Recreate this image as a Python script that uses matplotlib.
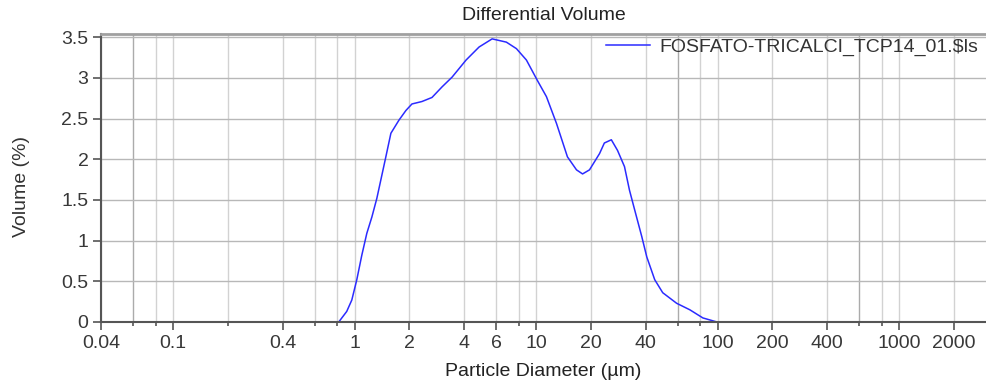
import matplotlib
matplotlib.use('Agg')
import matplotlib.pyplot as plt

plt.rcParams['font.family'] = ['Liberation Sans', 'DejaVu Sans']

# Distribuição diferencial em volume (diâmetro em µm, volume em %)
diametro = [0.69, 0.816, 0.903, 0.963, 1.026, 1.093, 1.165, 1.242, 1.323, 1.483,
            1.581, 1.750, 1.913, 2.065, 2.344, 2.663, 3.025, 3.436, 4.103, 4.838,
            5.71, 6.84, 7.77, 8.82, 10.13, 11.37, 12.92, 14.84, 16.65, 17.98,
            19.63, 22.3, 23.7, 25.9, 28.0, 30.6, 32.6, 34.8, 38.1, 40.6,
            44.9, 49.7, 59.3, 70.1, 82.7, 98.9, 128.5]
volume = [0.0, 0.0, 0.13, 0.27, 0.52, 0.82, 1.09, 1.29, 1.52, 2.03,
          2.32, 2.48, 2.60, 2.68, 2.71, 2.76, 2.89, 3.01, 3.22, 3.38,
          3.48, 3.44, 3.36, 3.22, 2.97, 2.77, 2.44, 2.03, 1.87, 1.82,
          1.87, 2.07, 2.20, 2.24, 2.11, 1.91, 1.62, 1.38, 1.05, 0.80,
          0.52, 0.36, 0.23, 0.15, 0.05, 0.0, 0.0]

serie = r'FOSFATO-TRICALCI_TCP14_01.\$ls'

xticks = [0.04, 0.1, 0.4, 1, 2, 4, 6, 10, 20, 40, 100, 200, 400, 1000, 2000]
xticklabels = ['0.04', '0.1', '0.4', '1', '2', '4', '6', '10', '20', '40',
               '100', '200', '400', '1000', '2000']
xminor = [0.06, 0.08, 0.2, 0.6, 0.8, 8, 60, 80, 600, 800]
yticks = [0, 0.5, 1, 1.5, 2, 2.5, 3, 3.5]
yticklabels = ['0', '0.5', '1', '1.5', '2', '2.5', '3', '3.5']

W, H = 987, 385
fig = plt.figure(figsize=(W / 100, H / 100), dpi=100)
ax = fig.add_axes([101 / W, 1 - 322 / H, (986 - 101) / W, (322 - 34) / H])

ax.plot(diametro, volume, color='#2b2bff', linewidth=1.1, label=serie)

ax.set_xscale('log')
ax.set_xlim(0.04, 3000)
ax.set_ylim(0, 3.54)

ax.set_xticks(xticks)
ax.set_xticklabels(xticklabels)
ax.set_xticks(xminor, minor=True)
ax.set_xticklabels([], minor=True)
ax.set_yticks(yticks)
ax.set_yticklabels(yticklabels)

ax.tick_params(axis='both', which='major', labelsize=14, colors='#555555',
               labelcolor='#383838', length=6, width=1.2, pad=3)
ax.tick_params(axis='x', which='minor', length=3, width=1.2, colors='#555555')

# Grelha
ax.grid(True, which='major', axis='y', color='#b8b8b8', linewidth=1)
ax.grid(True, which='both', axis='x', color='#d2d2d2', linewidth=1)
for t in ax.xaxis.get_minor_ticks():
    if round(t.get_loc(), 3) in (0.06, 60, 600):
        t.gridline.set_color('#ababab')
ax.set_axisbelow(True)

for lado in ('left', 'bottom'):
    ax.spines[lado].set_color('#555555')
    ax.spines[lado].set_linewidth(1.5)
ax.spines['top'].set_color('#a0a0a0')
ax.spines['top'].set_linewidth(2)
ax.spines['right'].set_visible(False)

ax.set_title('Differential Volume', fontsize=14, color='#222222', pad=10)
ax.set_xlabel('Particle Diameter (µm)', fontsize=14, color='#222222', labelpad=8)
ax.set_ylabel('Volume (%)', fontsize=14, color='#333333')
ax.yaxis.set_label_coords(-0.080, 0.47)

ax.legend(loc='center right', bbox_to_anchor=(978 / W, 1 - 47 / H),
          bbox_transform=fig.transFigure, frameon=False, fontsize=14,
          handlelength=2.26, handletextpad=0.46, borderpad=0, borderaxespad=0,
          labelcolor='#333333')

fig.savefig('out.png', dpi=100)
